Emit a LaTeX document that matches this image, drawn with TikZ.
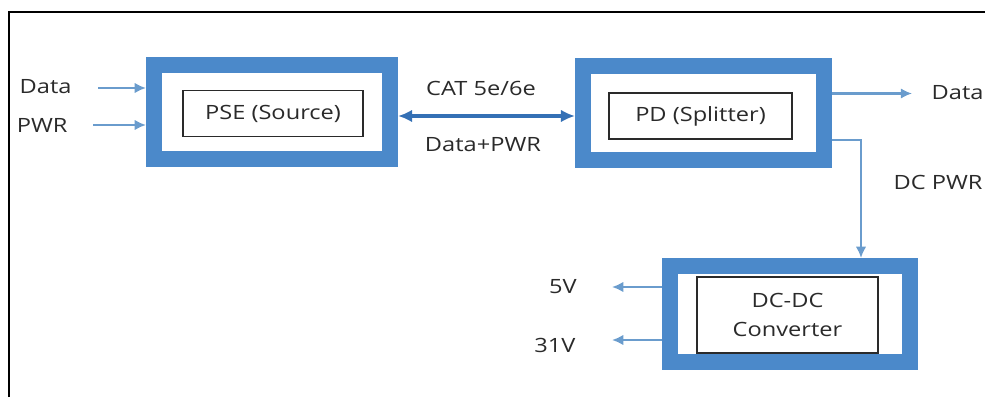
\documentclass[tikz,border=0pt]{standalone}
\usepackage{fontspec}
\setmainfont{Open Sans}[FakeStretch=1.2]
\usepackage{tikz}
\usetikzlibrary{calc,arrows.meta}
\definecolor{rimblue}{HTML}{4B89CA}
\definecolor{wire}{HTML}{6A9CCD}
\definecolor{cablec}{HTML}{3470B5}
\definecolor{ink}{HTML}{2A2A2A}
\tikzset{
  rim/.style={draw=black, line width=1.4pt},
  outerbox/.style={draw=rimblue, line width=11.4pt, fill=white},
  innerbox/.style={draw=ink, line width=1.1pt, fill=white, text=ink,
    font=\fontsize{14}{21}\selectfont, align=center, inner sep=0pt},
  lab/.style={text=ink, font=\fontsize{14}{17}\selectfont, inner sep=1pt},
  feed/.style={draw=wire, line width=1.7pt, -{Latex[length=8pt,width=7.5pt]}},
  cable/.style={draw=cablec, line width=2.6pt, {Latex[length=10pt,width=9pt]}-{Latex[length=10pt,width=9pt]}}
}
\begin{document}
\begin{tikzpicture}
  \useasboundingbox (0,0) rectangle (24.625,9.925);
  % page frame
  \draw[rim] (0.225,0) -- (0.225,9.625) -- (24.625,9.625);

  % blocks
  \node[outerbox, minimum width=5.9cm, minimum height=2.35cm] (pse) at (6.8,7.125) {};
  \node[innerbox, minimum width=4.5cm, minimum height=1.15cm] (pseIn) at (6.825,7.0875) {PSE (Source)};
  \node[outerbox, minimum width=6.025cm, minimum height=2.35cm] (pd) at (17.5875,7.1) {};
  \node[innerbox, minimum width=4.575cm, minimum height=1.15cm] (pdIn) at (17.5125,7.025) {PD (Splitter)};
  \node[outerbox, minimum width=6cm, minimum height=2.4cm] (conv) at (19.75,2.075) {};
  \node[innerbox, minimum width=4.525cm, minimum height=1.9cm] (convIn) at (19.6875,2.05) {DC-DC\\Converter};

  % inputs
  \node[lab, anchor=west] (dataIn) at (0.45,7.77) {Data};
  \node[lab, anchor=west] (pwrIn) at (0.38,6.8) {PWR};
  \coordinate (dataSt) at (2.45,7.725);
  \coordinate (pwrSt) at (2.325,6.8);
  \draw[feed] (dataSt) -- (dataSt -| pse.west);
  \draw[feed] (pwrSt) -- (pwrSt -| pse.west);

  % cable between PSE and PD
  \coordinate (cabL) at ($(pse.east)+(0,-0.1)$);
  \draw[cable] (cabL) -- (cabL -| pd.west);
  \node[lab] (cat) at (12.025,7.725) {CAT 5e/6e};
  \node[lab] (dpwr) at (12.075,6.3) {Data+PWR};

  % outputs of PD
  \node[lab, anchor=west] (dataOut) at (23.25,7.6) {Data};
  \coordinate (dataEnd) at (22.8,7.5875);
  \draw[feed] (dataEnd -| pd.east) -- (dataEnd);
  \node[lab] (dcpwr) at (23.45,5.375) {DC PWR};
  \coordinate (dcTap) at (21.525,6.425);
  \draw[feed] (dcTap -| pd.east) -- (dcTap) -- (dcTap |- conv.north);

  % converter outputs
  \node[lab] (v5) at (14.075,2.75) {5V};
  \node[lab] (v31) at (13.875,1.3) {31V};
  \coordinate (v5End) at (15.3,2.75);
  \coordinate (v31End) at (15.3,1.425);
  \draw[feed] (v5End -| conv.west) -- (v5End);
  \draw[feed] (v31End -| conv.west) -- (v31End);
\end{tikzpicture}
\end{document}
